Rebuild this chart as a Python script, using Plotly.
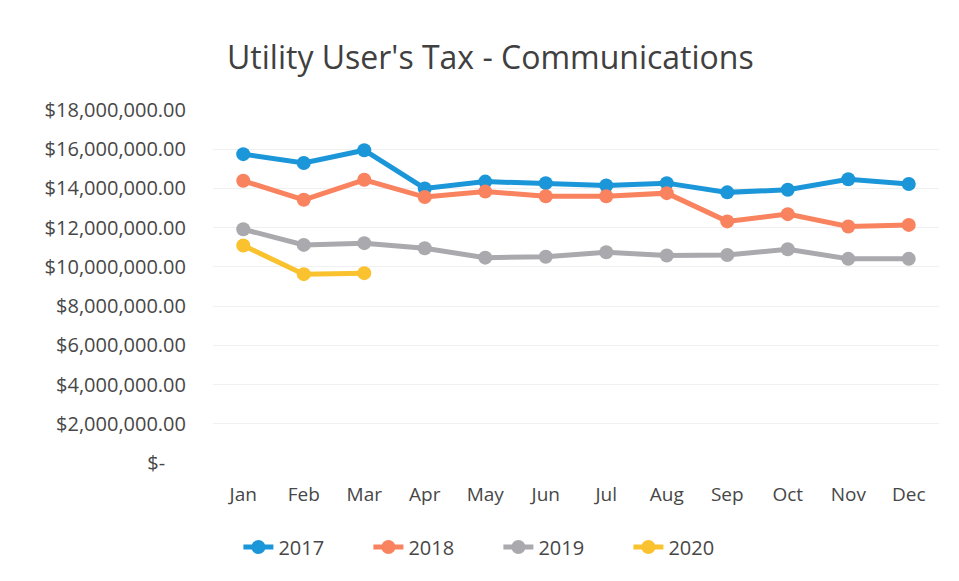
import plotly.graph_objects as go

months = ["Jan", "Feb", "Mar", "Apr", "May", "Jun", "Jul", "Aug", "Sep", "Oct", "Nov", "Dec"]
y2017 = [15750000, 15300000, 15950000, 14000000, 14350000, 14270000, 14150000, 14270000, 13800000, 13930000, 14470000, 14230000]
y2018 = [14390000, 13420000, 14440000, 13560000, 13840000, 13600000, 13600000, 13760000, 12320000, 12690000, 12060000, 12140000]
y2019 = [11920000, 11120000, 11210000, 10950000, 10470000, 10520000, 10750000, 10580000, 10610000, 10900000, 10410000, 10410000]
y2020 = [11090000, 9630000, 9680000]

tick_vals = [0, 2000000, 4000000, 6000000, 8000000, 10000000, 12000000, 14000000, 16000000, 18000000]
tick_text = ["$-    ", "$2,000,000.00", "$4,000,000.00", "$6,000,000.00", "$8,000,000.00",
             "$10,000,000.00", "$12,000,000.00", "$14,000,000.00", "$16,000,000.00", "$18,000,000.00"]

series = [("2017", y2017, "#1B96D9"), ("2018", y2018, "#F9825F"),
          ("2019", y2019, "#A9A9AE"), ("2020", y2020, "#F9C22E")]

fig = go.Figure()
for name, vals, col in series:
    fig.add_trace(go.Scatter(x=months[:len(vals)], y=vals, name=name, mode="lines+markers",
                             line=dict(color=col, width=5), marker=dict(color=col, size=14)))

fig.update_layout(
    width=959, height=581,
    paper_bgcolor="white", plot_bgcolor="white",
    margin=dict(l=205, r=28, t=102, b=126),
    font=dict(family="Open Sans", color="#474747"),
    title=dict(text="Utility User's Tax - Communications", x=0.503, xref="container", xanchor="center",
               y=0.914, yref="container", yanchor="middle",
               font=dict(size=32, color="#404040")),
    xaxis=dict(categoryorder="array", categoryarray=months, range=[-0.5, 11.5],
               showgrid=False, zeroline=False, showline=False, ticks="",
               tickfont=dict(size=19, color="#474747"), ticklabelstandoff=18),
    yaxis=dict(range=[0, 18000000], tickvals=tick_vals, ticktext=tick_text,
               showgrid=True, gridcolor="#F0F0F0", gridwidth=1, zeroline=False, showline=False,
               tickfont=dict(size=20, color="#474747"), ticklabelstandoff=26),
    legend=dict(orientation="h", x=0.035, xref="paper", xanchor="left", y=-0.238, yanchor="middle",
                font=dict(size=20, color="#474747"), tracegroupgap=0,
                entrywidth=85, entrywidthmode="pixels"),
)
fig.write_html("out.html")
